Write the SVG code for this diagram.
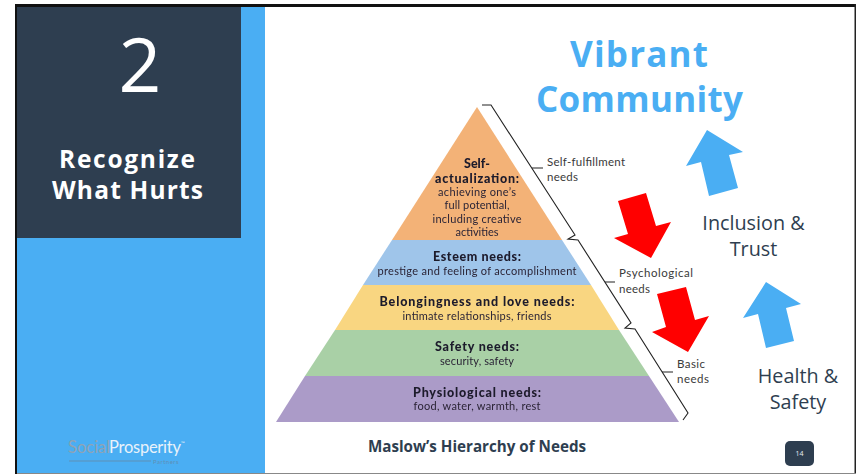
<svg xmlns="http://www.w3.org/2000/svg" width="856" height="474" viewBox="0 0 856 474">
<style>
.u{font-family:"Open Sans","Noto Sans",sans-serif}
.m{text-anchor:middle}
.h{font-size:19.800px;fill:#2e3e50}
.p{font-family:Lato,"Liberation Sans",sans-serif;text-anchor:middle;fill:#2b2436;font-size:11px}
.b{font-weight:900;font-size:12.500px;fill:#1d1a2c}
.n{font-family:Lato,"Liberation Sans",sans-serif;font-size:11.500px;fill:#3a3a3a}
.l{font-family:Lato,"Liberation Sans",sans-serif}
.red{fill:#ff0000}
.blue{fill:#4aaef3}
.br{fill:none;stroke:#222;stroke-width:1.1}
</style>
<defs><filter id="soft" x="-5%" y="-5%" width="110%" height="110%"><feGaussianBlur stdDeviation="0.35"/></filter></defs>
<rect width="856" height="474" fill="#fff"/>
<g id="panel">
<rect x="17" y="7" width="248" height="466" fill="#4aaef3"/>
<rect x="17" y="7" width="224" height="231" fill="#2e3e50"/>
<text x="140" y="92" class="u m" font-size="75" fill="#fff">2</text>
<text x="127" y="168" class="u m" font-size="24.500" font-weight="700" fill="#fff" textLength="136">Recognize</text>
<text x="127.500" y="199" class="u m" font-size="24.500" font-weight="700" fill="#fff" textLength="151">What Hurts</text>
</g>
<g id="frame">
<rect x="15" y="4" width="841" height="3" fill="#111"/>
<rect x="15" y="4" width="2" height="470" fill="#111"/>
<rect x="854.500" y="4" width="1.500" height="470" fill="#222"/>
<rect x="17" y="473" width="839" height="1" fill="#888"/>
</g>
<g id="logo">
<text x="68" y="453" class="l" font-size="16.500" fill="#8fa3b5">Social</text>
<text x="109" y="453" class="l" font-size="16.500" fill="#e8f2fa" textLength="72">Prosperity</text>
<text x="181" y="445" class="l" font-size="5" fill="#e8f2fa">™</text>
<rect x="69" y="460.500" width="82" height="1" fill="#5f8fb5"/>
<text x="153" y="464" class="l" font-size="6" fill="#5f8fb5" letter-spacing=".5">Partners</text>
</g>
<g id="pyramid" filter="url(#soft)">
<polygon points="477,107 392,240 562,240" fill="#f3b277"/>
<polygon points="392,240 562,240 591,285 363,285" fill="#9fc5ea"/>
<polygon points="363,285 591,285 619,330 335,330" fill="#f9d681"/>
<polygon points="335,330 619,330 649,376 305,376" fill="#a9d0a6"/>
<polygon points="305,376 649,376 679,422 276,422" fill="#ab9bc8"/>
<g class="labels">
<text x="477" y="168" class="p b">Self-</text>
<text x="477" y="183" class="p b" textLength="84">actualization:</text>
<text x="477" y="196" class="p" textLength="78">achieving one’s</text>
<text x="477" y="209" class="p" textLength="65">full potential,</text>
<text x="477" y="222.500" class="p" textLength="89">including creative</text>
<text x="477" y="236" class="p" textLength="43">activities</text>
<text x="477" y="261" class="p b" textLength="88">Esteem needs:</text>
<text x="477" y="275" class="p" textLength="199">prestige and feeling of accomplishment</text>
<text x="477" y="306" class="p b" textLength="195">Belongingness and love needs:</text>
<text x="477" y="319.500" class="p" textLength="149">intimate relationships, friends</text>
<text x="477" y="351" class="p b" textLength="84">Safety needs:</text>
<text x="477" y="365" class="p" textLength="74">security, safety</text>
<text x="477" y="397" class="p b" textLength="128">Physiological needs:</text>
<text x="477" y="410" class="p" textLength="127">food, water, warmth, rest</text>
</g>
</g>
<g id="connectors">
<polyline class="br" points="482,105 491,105 575,235 568,239 578,240 631,323 625,328 635,329 688,413 683,420"/>
<path class="br" d="M532 168H543M605 282H615M662 372H673"/>
</g>
<g id="need-labels">
<text x="547" y="166" class="n" textLength="78">Self-fulfillment</text>
<text x="547" y="181" class="n" textLength="31">needs</text>
<text x="619" y="277" class="n" textLength="74">Psychological</text>
<text x="619" y="293" class="n" textLength="31">needs</text>
<text x="677" y="368" class="n" textLength="28">Basic</text>
<text x="677" y="383" class="n" textLength="32">needs</text>
</g>
<g id="arrows">
<polygon class="red" points="618,201 646,193 656,226 671,222 651,258 614,238 628,234"/>
<polygon class="red" points="657,294 686,287 695,320 709,316 688,352 652,332 666,327"/>
<polygon class="blue" points="707,130 743,152 729,155 738,188 709,196 701,162 686,166"/>
<polygon class="blue" points="766,282 801,304 786,308 794,341 766,348 758,314 743,318"/>
</g>
<g id="vibrant">
<text x="639" y="67" class="u m" font-size="35" font-weight="700" fill="#4aaef3" textLength="138">Vibrant</text>
<text x="639.500" y="112" class="u m" font-size="35" font-weight="700" fill="#4aaef3" textLength="207">Community</text>
</g>
<g id="inclusion">
<text x="753.500" y="230" class="u m h">Inclusion &amp;</text>
<text x="753.500" y="256" class="u m h">Trust</text>
</g>
<g id="health">
<text x="798" y="383" class="u m h">Health &amp;</text>
<text x="798" y="409" class="u m h">Safety</text>
</g>
<g id="caption">
<text x="477" y="452" class="u m" font-size="15.200" font-weight="700" fill="#2e3e50">Maslow’s Hierarchy of Needs</text>
</g>
<g id="page">
<rect x="785" y="441" width="29" height="25" rx="5" fill="#2e3e50"/>
<text x="799.500" y="456" class="u m" font-size="7" fill="#e8edf2">14</text>
</g>
</svg>
